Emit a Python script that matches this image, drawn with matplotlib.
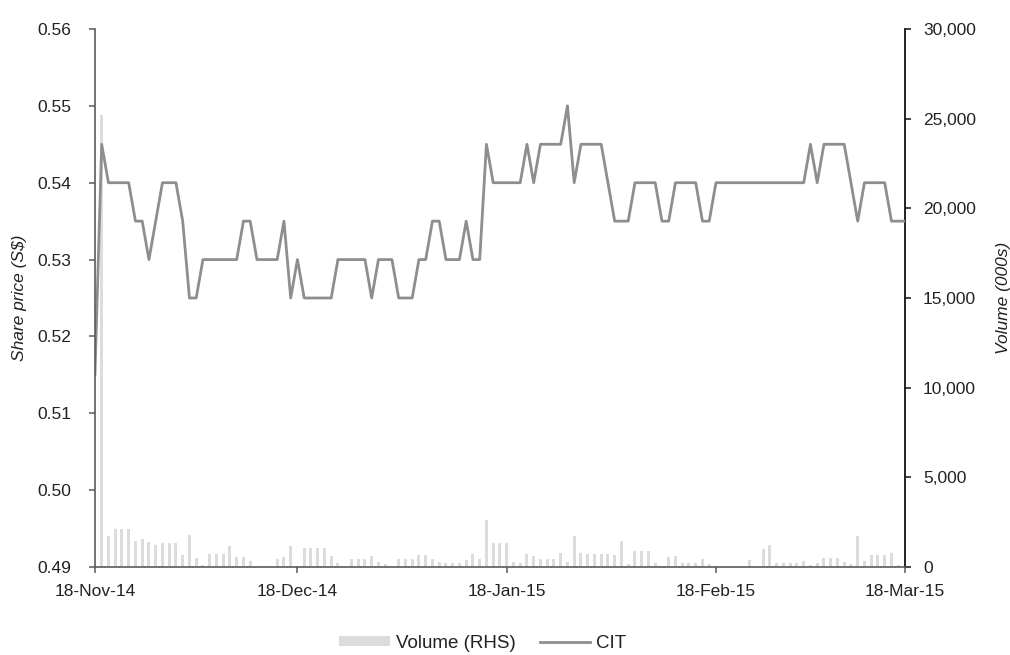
import matplotlib
matplotlib.use("Agg")
import matplotlib.pyplot as plt
import matplotlib.dates as mdates
import pandas as pd

plt.rcParams['font.family'] = ['Liberation Sans', 'DejaVu Sans']

# daily series, 18-Nov-14 .. 18-Mar-15
dates = pd.date_range("2014-11-18", "2015-03-18", freq="D")

price = [0.515, 0.545, 0.54, 0.54, 0.54, 0.54, 0.535, 0.535, 0.53, 0.535,
         0.54, 0.54, 0.54, 0.535, 0.525, 0.525, 0.53, 0.53, 0.53, 0.53,
         0.53, 0.53, 0.535, 0.535, 0.53, 0.53, 0.53, 0.53, 0.535, 0.525,
         0.53, 0.525, 0.525, 0.525, 0.525, 0.525, 0.53, 0.53, 0.53, 0.53,
         0.53, 0.525, 0.53, 0.53, 0.53, 0.525, 0.525, 0.525, 0.53, 0.53,
         0.535, 0.535, 0.53, 0.53, 0.53, 0.535, 0.53, 0.53, 0.545, 0.54,
         0.54, 0.54, 0.54, 0.54, 0.545, 0.54, 0.545, 0.545, 0.545, 0.545,
         0.55, 0.54, 0.545, 0.545, 0.545, 0.545, 0.54, 0.535, 0.535, 0.535,
         0.54, 0.54, 0.54, 0.54, 0.535, 0.535, 0.54, 0.54, 0.54, 0.54,
         0.535, 0.535, 0.54, 0.54, 0.54, 0.54, 0.54, 0.54, 0.54, 0.54,
         0.54, 0.54, 0.54, 0.54, 0.54, 0.54, 0.545, 0.54, 0.545, 0.545,
         0.545, 0.545, 0.54, 0.535, 0.54, 0.54, 0.54, 0.54, 0.535, 0.535,
         0.535]

volume = [0, 25200, 1750, 2120, 2120, 2120, 1440, 1560, 1420, 1250,
          1310, 1310, 1310, 660, 1800, 480, 110, 720, 720, 720,
          1160, 530, 530, 350, 40, 40, 40, 460, 530, 1160,
          70, 1030, 1030, 1030, 1030, 590, 200, 0, 420, 420,
          420, 590, 260, 180, 0, 420, 420, 420, 640, 640,
          460, 290, 200, 200, 200, 370, 700, 420, 2630, 1340,
          1340, 1340, 290, 200, 700, 590, 460, 460, 460, 790,
          260, 1750, 790, 700, 700, 700, 740, 660, 1470, 160,
          880, 880, 880, 220, 70, 550, 590, 240, 240, 240,
          420, 170, 0, 0, 0, 0, 0, 370, 0, 980,
          1200, 240, 240, 240, 240, 330, 110, 240, 500, 500,
          500, 290, 150, 1750, 330, 640, 640, 640, 790, 110,
          0]

xticks = pd.to_datetime(["2014-11-18", "2014-12-18", "2015-01-18",
                         "2015-02-18", "2015-03-18"])

fs = 12.5
fig = plt.figure(figsize=(10.10, 6.55), dpi=100)
ax = fig.add_axes([0.094, 0.1344, 0.802, 0.8213])
ax2 = ax.twinx()

bars = ax2.bar(dates, volume, width=0.45, color="#dcdcdc", label="Volume (RHS)")
line, = ax.plot(dates, price, color="#8e8e90", lw=2.0, label="CIT")

# line above bars
ax.set_zorder(ax2.get_zorder() + 1)
ax.patch.set_visible(False)

ax.set_ylim(0.49, 0.56)
ax.set_yticks([0.49, 0.50, 0.51, 0.52, 0.53, 0.54, 0.55, 0.56])
ax.yaxis.set_major_formatter(matplotlib.ticker.FormatStrFormatter("%.2f"))
ax2.set_ylim(0, 30000)
ax2.set_yticks(range(0, 30001, 5000))
ax2.yaxis.set_major_formatter(matplotlib.ticker.StrMethodFormatter("{x:,.0f}"))

ax.set_xlim(dates[0], dates[-1])
ax.set_xticks(xticks)
ax.xaxis.set_major_formatter(mdates.DateFormatter("%d-%b-%y"))

for a in (ax, ax2):
    a.spines["top"].set_visible(False)
ax.spines["right"].set_visible(False)
ax2.spines["left"].set_visible(False)
ax2.spines["bottom"].set_visible(False)
ax.spines["left"].set_color("#5a5a5a")
ax.spines["bottom"].set_color("#5a5a5a")
ax2.spines["right"].set_color("#111111")
ax.spines["left"].set_linewidth(1.2)
ax.spines["bottom"].set_linewidth(1.2)
ax2.spines["right"].set_linewidth(1.3)

ax.tick_params(axis="y", direction="out", length=4, width=1.1, color="#5a5a5a",
               labelsize=fs, pad=13, labelcolor="#222222")
ax.tick_params(axis="x", direction="out", length=4, width=1.1, color="#5a5a5a",
               labelsize=fs, pad=8, labelcolor="#222222")
ax2.tick_params(axis="y", direction="out", length=4, width=1.1, color="#111111",
                labelsize=fs, pad=9, labelcolor="#222222")

ax.set_ylabel("Share price (S$)", fontsize=fs, style="italic", color="#222222")
ax.yaxis.set_label_coords(-0.084, 0.5)
ax2.set_ylabel("Volume (000s)", fontsize=fs, style="italic", color="#222222",
               rotation=90)
ax2.yaxis.set_label_coords(1.112, 0.5)

fig.legend([bars, line], ["Volume (RHS)", "CIT"], loc="center",
           bbox_to_anchor=(0.478, 0.018), ncol=2, frameon=False, fontsize=13.5,
           handlelength=2.7, handleheight=0.45, columnspacing=1.3,
           handletextpad=0.3, labelcolor="#222222")

fig.savefig("out.png", dpi=100)
